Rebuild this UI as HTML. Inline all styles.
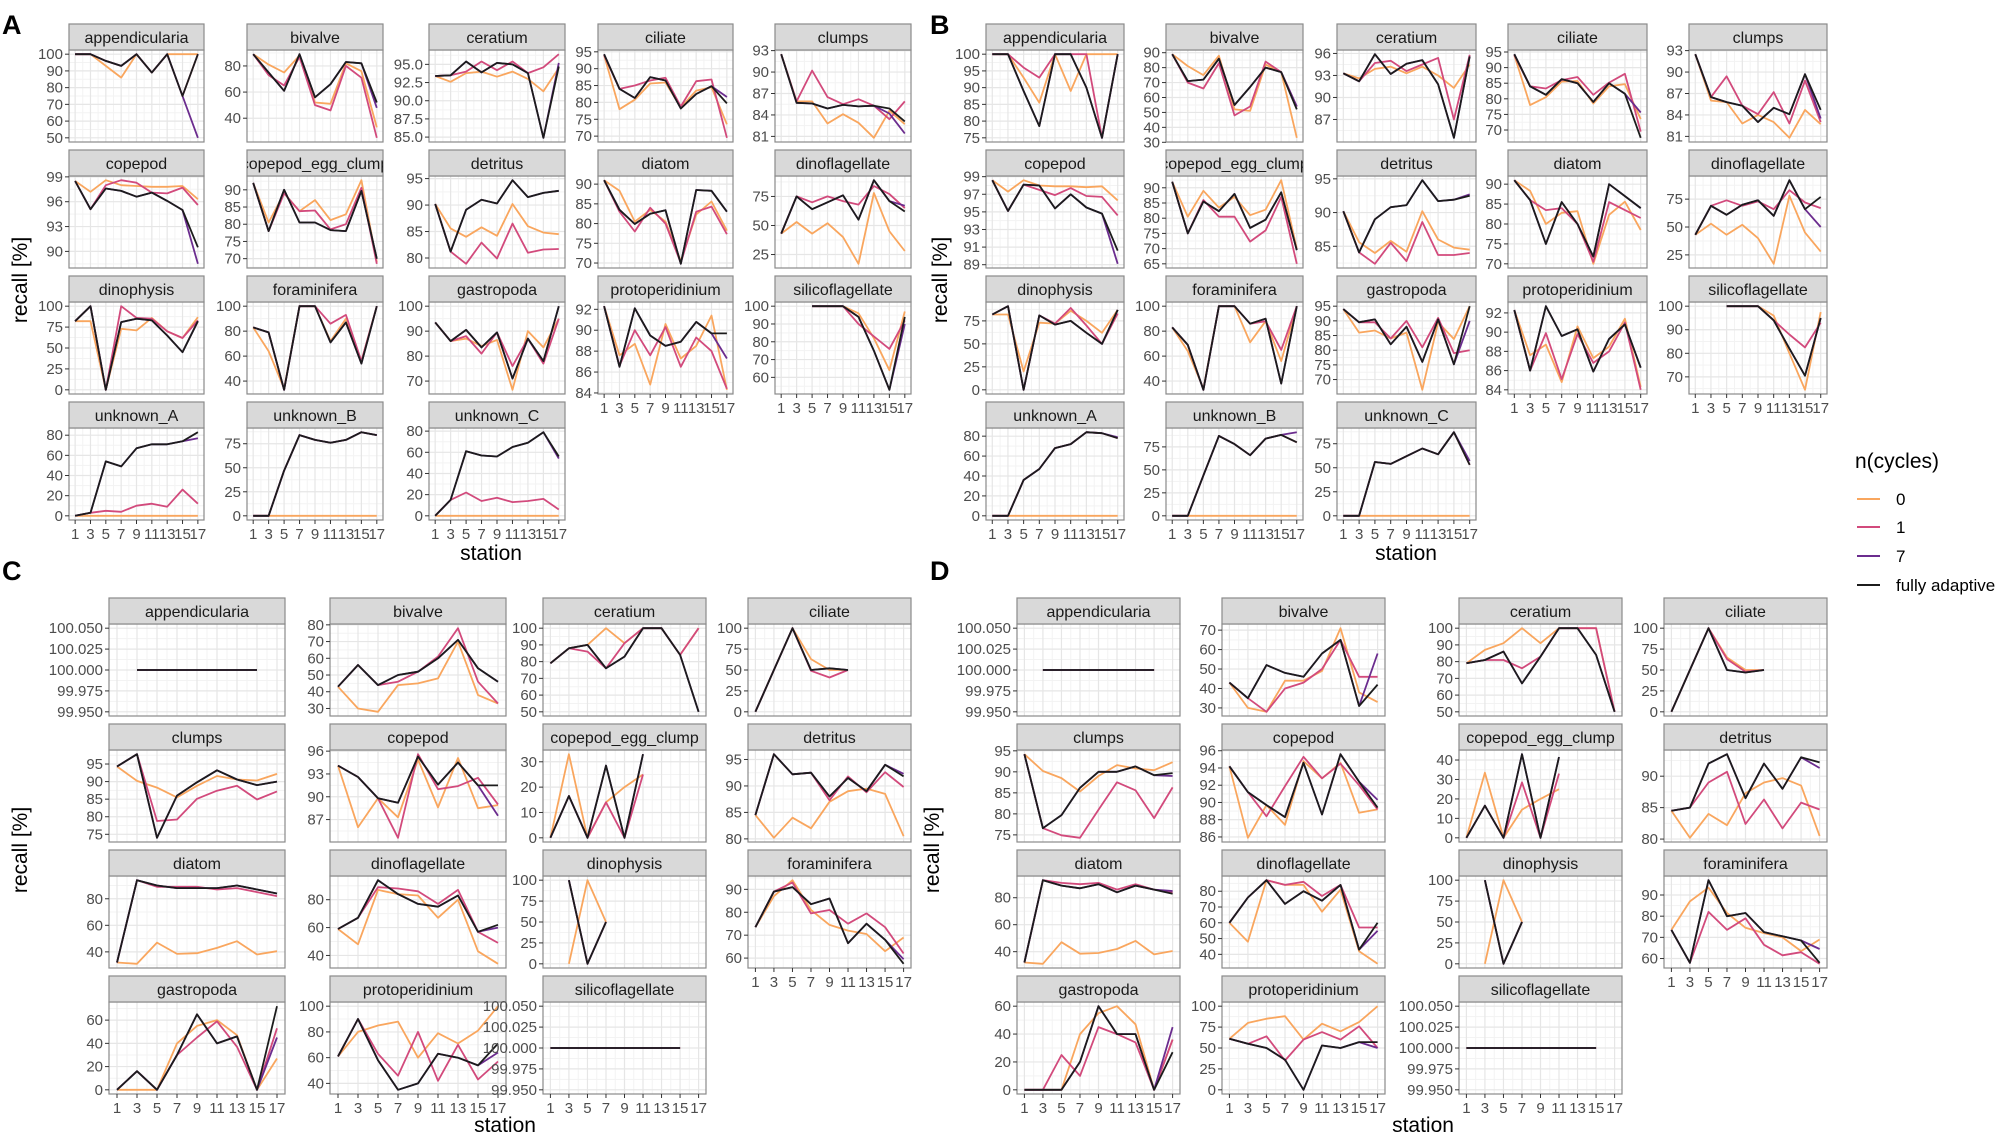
<!DOCTYPE html>
<html><head><meta charset="utf-8">
<style>
html,body{margin:0;padding:0;background:#fff;}
svg{display:block;font-family:"Liberation Sans",Arial,sans-serif;}
</style></head>
<body>
<svg id="fig" width="2014" height="1134" viewBox="0 0 2014 1134" xmlns="http://www.w3.org/2000/svg">
<rect x="0" y="0" width="2014" height="1134" fill="#fff"/>
<text x="2" y="34" font-size="27" font-weight="bold" fill="#000">A</text>
<text x="930" y="34" font-size="27" font-weight="bold" fill="#000">B</text>
<text x="2" y="580" font-size="27" font-weight="bold" fill="#000">C</text>
<text x="930" y="580" font-size="27" font-weight="bold" fill="#000">D</text>
<text transform="translate(27,280) rotate(-90)" text-anchor="middle" font-size="21" fill="#000">recall [%]</text>
<text transform="translate(947,280) rotate(-90)" text-anchor="middle" font-size="21" fill="#000">recall [%]</text>
<text transform="translate(27,850) rotate(-90)" text-anchor="middle" font-size="21" fill="#000">recall [%]</text>
<text transform="translate(939,850) rotate(-90)" text-anchor="middle" font-size="21" fill="#000">recall [%]</text>
<text x="491" y="560" text-anchor="middle" font-size="21" fill="#000">station</text>
<text x="1406" y="560" text-anchor="middle" font-size="21" fill="#000">station</text>
<text x="505" y="1132" text-anchor="middle" font-size="21" fill="#000">station</text>
<text x="1423" y="1132" text-anchor="middle" font-size="21" fill="#000">station</text>
<g>
<text x="1855" y="468" font-size="21" fill="#000">n(cycles)</text>
<line x1="1857" y1="499" x2="1880" y2="499" stroke="#F9A65E" stroke-width="2"/>
<text x="1896" y="505" font-size="17" fill="#000">0</text>
<line x1="1857" y1="527" x2="1880" y2="527" stroke="#D24A7C" stroke-width="2"/>
<text x="1896" y="533" font-size="17" fill="#000">1</text>
<line x1="1857" y1="556" x2="1880" y2="556" stroke="#6B2C8E" stroke-width="2"/>
<text x="1896" y="562" font-size="17" fill="#000">7</text>
<line x1="1857" y1="585" x2="1880" y2="585" stroke="#1c1c1c" stroke-width="2"/>
<text x="1896" y="591" font-size="17" fill="#000">fully adaptive</text>
</g>
</svg>
<script>
const stations=[1,3,5,7,9,11,13,15,17];
const N=null;
// each facet: [s0, s1, s7, fully adaptive]
// ---------- Panel A ----------
const A_appendicularia=[[100,100,93,86,100,89,100,100,100],[100,100,96,93,100,89,100,75,100],[100,100,96,93,100,89,100,75,50],[100,100,96,93,100,89,100,75,100]];
const A_bivalve=[[89,81,75,88,52,51,82,76,33],[89,73,65,87,50,46,80,71,25],[89,75,61,89,56,66,83,82,48],[89,75,61,89,56,66,83,82,52]];
const A_ceratium=[[93.4,92.6,93.8,94.0,93.3,94.0,93.0,91.3,94.5],[93.4,93.5,94.0,95.4,94.2,95.4,93.8,94.6,96.4],[93.4,93.5,95.4,93.9,95.2,95.0,93.8,84.9,95.2],[93.4,93.5,95.4,93.9,95.2,95.0,93.8,84.9,94.7]];
const A_ciliate=[[94,78,80.8,85.6,85.9,78.5,83.5,84.5,73.5],[94,84,85,86.5,87.3,78.8,86.3,86.8,69.5],[94.3,84,81.3,87.5,86.5,78.2,82.5,84.8,81.6],[94.3,84,81.3,87.5,86.5,78.2,82.5,84.8,79.7]];
const A_clumps=[[92.5,85.9,85.9,82.8,84.1,82.9,80.8,84.6,82.7],[92.5,85.9,90.2,86.5,85.5,86.2,85.3,83.4,85.9],[92.5,85.7,85.6,84.9,85.4,85.2,85.3,84.2,81.4],[92.5,85.7,85.6,84.9,85.4,85.2,85.3,84.9,83.1]];
const A_copepod=[[98.5,97.2,98.6,98.0,97.9,97.8,97.8,97.9,96.3],[98.5,95.1,98.0,98.6,98.3,97.1,97.0,97.7,95.6],[98.5,95.1,97.6,97.3,96.6,97.1,96.1,95.0,88.5],[98.5,95.1,97.6,97.3,96.6,97.1,96.1,95.0,90.5]];
const A_copepod_egg_clump=[[92,80.5,89,83.8,87,81.2,82.9,92.8,69],[92,78,89,83.8,84,78.5,80,90.6,68.5],[92,78,90,80.5,80.5,78.3,78,89.7,70],[92,78,90,80.5,80.5,78.3,78,89.7,70]];
const A_detritus=[[90.2,85.6,84,85.8,84.2,90.2,86,84.8,84.5],[90.2,81.2,78.9,82.9,79.9,86.5,81,81.6,81.7],[90.2,81.2,89.1,91.0,90.3,94.7,91.5,92.3,92.7],[90.2,81.2,89.1,91.0,90.3,94.7,91.5,92.3,92.7]];
const A_diatom=[[91,88.3,80.5,83.5,80.5,70.5,82.3,85.6,78.2],[91,83,78,84,80,70,83,84.3,77.3],[91,83.5,79.9,82.5,83.4,69.8,88.5,88.3,83],[91,83.5,79.9,82.5,83.4,69.8,88.5,88.3,83]];
const A_dinoflagellate=[[43,53,43,52,40,17,78,45,28],[43,75,70,75,71,68,84,77,65],[43,75,64,70,76,55,89,71,67],[43,75,64,70,76,55,89,71,62]];
const A_dinophysis=[[82,82,0,73,71,86,70,62,87],[82,100,0,100,86,85,70,62,83],[82,100,0,81,85,83,65,45,82],[82,100,0,81,85,83,65,45,82]];
const A_foraminifera=[[83,64,34,100,100,72,90,56,100],[83,79,33,100,100,86,93,56,100],[83,79,33,100,100,71,87,54,100],[83,79,33,100,100,71,87,54,100]];
const A_gastropoda=[[93.5,86,87,84,86.5,66.5,90,83.5,95],[93.5,86,88,81,89.5,76,87,77,95],[93.5,86,90.5,83.5,89.5,71,87,78,100],[93.5,86,90.5,83.5,89.5,71,87,78,100]];
const A_protoperidinium=[[92.3,87.6,88.7,84.8,90.6,87.3,88.5,91.4,84.3],[92.3,86.6,90.0,87.6,90.3,86.5,89.3,88.0,84.4],[92.3,86.5,92.1,89.5,88.5,88.9,90.8,89.7,87.3],[92.3,86.5,92.1,89.5,88.5,88.9,90.8,89.7,89.7]];
const A_silicoflagellate=[[N,N,100,100,100,96,82,64,97],[N,N,100,100,100,90,83,76,92],[N,N,100,100,100,94,75,53,90],[N,N,100,100,100,94,75,53,94]];
const A_unknown_A=[[0,0,0,0,0,0,0,0,0],[0,3,5,4,10,12,9,26,12],[0,3,54,49,67,71,71,74,77],[0,3,54,49,67,71,71,74,83]];
const A_unknown_B=[[0,0,0,0,0,0,0,0,0],[0,0,47,84,79,76,79,87,84],[0,0,47,84,79,76,79,87,84],[0,0,47,84,79,76,79,87,84]];
const A_unknown_C=[[0,0,0,0,0,0,0,0,0],[0,15,22,14,17,13,14,16,6],[0,15,61,57,56,65,69,79,54],[0,15,61,57,56,65,69,79,56]];
// ---------- Panel B ----------
const B_appendicularia=[[100,100,93,85.5,100,89,100,100,100],[100,100,96,93,100,100,100,75,100],[100,100,89,78.5,100,100,90,75,100],[100,100,89,78.5,100,100,90,75,100]];
const B_bivalve=[[89,81,75,88,52,51,82,77,33],[89,70,66,83,48,54,84,77,54],[89,71,72,86,55,67,80,77,54],[89,71,72,86,55,67,80,77,52]];
const B_ceratium=[[93.3,92.6,93.9,94.2,93.3,94.2,93.0,91.3,94.5],[93.3,92.2,94.7,95.0,93.6,94.5,95.4,87.0,95.8],[93.3,92.2,95.9,93.2,94.6,95.1,91.8,84.5,95.6],[93.3,92.2,95.9,93.2,94.6,95.1,91.8,84.5,95.6]];
const B_ciliate=[[94,78,80.5,85.5,85.7,78.5,84,84.7,73.5],[94,84,83.3,86,87,81.3,85.2,88,69.5],[94.3,84,81.3,86.3,85,79,85,81.6,75.6],[94.3,84,81.3,86.3,85,79,85,81.6,67.5]];
const B_clumps=[[92.5,86,85.8,82.8,84,83,80.8,84.7,82.7],[92.5,86.5,89.4,85.3,84.1,87.2,82.8,88.8,83],[92.5,86.5,85.8,85.3,83,85,84.1,89.7,83.5],[92.5,86.5,85.8,85.3,83,85,84.1,89.7,84.7]];
const B_copepod=[[98.6,97.3,98.6,98.0,97.9,97.9,97.8,97.9,96.3],[98.6,95.1,98.1,97.5,96.9,97.7,96.8,96.7,94.6],[98.6,95.1,98.1,98.0,95.4,97.0,95.5,94.8,89.1],[98.6,95.1,98.1,98.0,95.4,97.0,95.5,94.8,90.6]];
const B_copepod_egg_clump=[[92,80.5,89,83.5,87,81,82.8,92.5,70],[92,75,86,80.5,80.5,72.3,76,87,65],[92,75,85.5,82.3,88,76.8,79.5,88.5,69.5],[92,75,85.5,82.3,88,76.8,79.5,88.5,69.5]];
const B_detritus=[[90.2,85.6,84,85.8,84.2,90.2,86,84.8,84.5],[90.2,84.1,82.4,85.5,82.8,88.6,83.7,83.7,84],[90.2,84.1,89,90.8,91.1,94.8,91.7,91.9,92.7],[90.2,84.1,89,90.8,91.1,94.8,91.7,91.9,92.5]];
const B_diatom=[[91,88.3,80,82.8,83.2,70,82.3,85.6,78.5],[91,86,83.5,84,80,70.5,85.5,83.5,81.5],[91,86,75,85.5,80,71.8,90,87,84],[91,86,75,85.5,80,71.8,90,87,84]];
const B_dinoflagellate=[[43,53,43,52,40,17,78,45,28],[43,69,74,69,73,66,83,72,67],[43,69,61,70,74,60,92,66,50],[43,69,61,70,74,60,92,66,77]];
const B_dinophysis=[[82,82,20,73,72,86,75,62,87],[82,91,0,81,72,89,70,50,83],[82,91,0,81,71,75,62,50,87],[82,91,0,81,71,75,62,50,87]];
const B_foraminifera=[[83,64,34,100,100,71,88,56,100],[83,69,33,100,100,86,88,65,100],[83,69,33,100,100,86,90,38,100],[83,69,33,100,100,86,90,38,100]];
const B_gastropoda=[[94,86,86.7,84,86,66.5,89.5,83.8,95],[94,89.5,89.5,84,90,81,91,79,80],[94,89.5,90.5,82,88,76,90.5,75.2,90],[94,89.5,90.5,82,88,76,90.5,75.2,95]];
const B_protoperidinium=[[92.3,87.6,88.7,84.8,90.6,87.3,88.5,91.4,84.3],[92.3,86,89.9,85.1,89.8,86.8,88.0,91.0,84],[92.3,86,92.7,89.6,90.3,85.9,89.3,90.8,86.3],[92.3,86,92.7,89.6,90.3,85.9,89.3,90.8,86.3]];
const B_silicoflagellate=[[N,N,100,100,100,96,80,64.5,97.5],[N,N,100,100,100,94,88,82.5,93],[N,N,100,100,100,94,82,70.5,95],[N,N,100,100,100,94,82,70.5,95]];
const B_unknown_A=[[0,0,0,0,0,0,0,0,0],[0,0,36,47,68,72,84,83,78],[0,0,36,47,68,72,84,83,79],[0,0,36,47,68,72,84,83,78]];
const B_unknown_B=[[0,0,0,0,0,0,0,0,0],[0,0,44,87,78,66,84,88,80],[0,0,44,87,78,66,84,88,91],[0,0,44,87,78,66,84,88,80]];
const B_unknown_C=[[0,0,0,0,0,0,0,0,0],[0,0,56,54,62,70,64,87,53],[0,0,56,54,62,70,64,87,57],[0,0,56,54,62,70,64,87,53]];
// ---------- Panel C ----------
const C_appendicularia=[[N,100,100,100,100,100,100,100,N],[N,100,100,100,100,100,100,100,N],[N,100,100,100,100,100,100,100,N],[N,100,100,100,100,100,100,100,N]];
const C_bivalve=[[43,30,28,44,45,48,70,38,33],[43,56,44,46,52,61,78,46,33],[43,56,44,50,52,60,71,54,46],[43,56,44,50,52,60,71,54,46]];
const C_ceratium=[[79,88,90,100,91,100,100,84,100],[79,88,86,76,91,100,100,84,100],[79,88,90,76,83,100,100,84,50],[79,88,90,76,83,100,100,84,50]];
const C_ciliate=[[0,50,100,63,50,50,N,N,N],[0,50,100,49,41,50,N,N,N],[0,50,100,50,52,50,N,N,N],[0,50,100,50,52,50,N,N,N]];
const C_clumps=[[94.3,90.2,88.3,85.5,88.8,91.6,90.6,90.3,92.2],[94.3,97.8,78.8,79.2,85.1,87.4,88.8,84.9,87.2],[94.3,97.8,74,86,89.8,93.2,90.6,89,90],[94.3,97.8,74,86,89.8,93.2,90.6,89,90]];
const C_copepod=[[94.1,86.0,89.8,87.3,94.9,88.6,95.1,88.5,88.9],[94.1,92.6,89.8,84.6,95.6,91.0,91.4,92.5,89.0],[94.1,92.6,89.8,89.2,95.3,91.6,94.5,91.5,87.5],[94.1,92.6,89.8,89.2,95.3,91.6,94.5,91.5,91.5]];
const C_copepod_egg_clump=[[0,33,0,14,20,25,N,N,N],[0,16.5,0,14,0,25,N,N,N],[0,16.5,0,28.5,0,33,N,N,N],[0,16.5,0,28.5,0,33,N,N,N]];
const C_detritus=[[84.5,80.2,84,82,87,89,89.5,88.5,80.5],[84.5,96,92.2,92.5,87.3,91.8,88.8,92.6,89.8],[84.5,96,92.2,92.5,88,91.5,89,94,92.3],[84.5,96,92.2,92.5,88,91.5,89,94,91.8]];
const C_diatom=[[32,31,47,38.5,39,43,48,38,40.5],[32,94,89,89,89,87,88,85,82],[32,94,90,88,88,88,90,87,84],[32,94,90,88,88,88,90,87,84]];
const C_dinoflagellate=[[59,48,87,84,83,67,80,43,34],[59,67,89,88,86,77,87,57,49],[59,67,94,84,77,75,83,57,60],[59,67,94,84,77,75,83,57,62]];
const C_dinophysis=[[N,0,100,50,N,N,N,N,N],[N,100,0,50,N,N,N,N,N],[N,100,0,50,N,N,N,N,N],[N,100,0,50,N,N,N,N,N]];
const C_foraminifera=[[73.5,87,94,81,74.5,72,70.5,63,69],[73.5,89,93,79.5,81,75,79.5,73.5,62],[73.5,89,91,83.5,86,66.5,75,68,59.5],[73.5,89,91,83.5,86,66.5,75,68,57.5]];
const C_gastropoda=[[0,0,0,40,55,60,47,0,27],[0,16,0,30,45,59,37,0,53],[0,16,0,30,65,40,46,0,45],[0,16,0,30,65,40,46,0,72]];
const C_protoperidinium=[[61,80,85,88,60,79,71,81,100],[61,90,63,46,80,42,70,43,57],[61,90,58,35,40,63,60,54,64],[61,90,58,35,40,63,60,54,71]];
const C_silicoflagellate=[[100,100,100,100,100,100,100,100,N],[100,100,100,100,100,100,100,100,N],[100,100,100,100,100,100,100,100,N],[100,100,100,100,100,100,100,100,N]];
// ---------- Panel D ----------
const D_appendicularia=C_appendicularia;
const D_bivalve=[[43,30,28,44,44,49,71,38,33],[43,35,28,40,43,50,65,46,46],[43,35,52,48,46,58,65,31,58],[43,35,52,48,46,58,65,31,42]];
const D_ceratium=[[79,87,91,100,91,100,100,100,50],[79,81,81,76,83,100,100,100,50],[79,81,86,67,83,100,100,84,50],[79,81,86,67,83,100,100,84,50]];
const D_ciliate=[[0,50,100,65,50,50,N,N,N],[0,50,100,63,48,50,N,N,N],[0,50,100,50,47,50,N,N,N],[0,50,100,50,47,50,N,N,N]];
const D_clumps=[[94.2,90.2,88.5,85.3,89,91.6,90.8,90.4,92.3],[94.2,76.6,74.9,74.3,81,87.5,85.6,79,86.3],[94.2,76.6,79.7,86.2,90,90,91.3,89.2,89],[94.2,76.6,79.7,86.2,90,90,91.3,89.2,89.7]];
const D_copepod=[[94.2,85.9,89.7,87.4,94.8,92.8,94.6,88.8,89.2],[94.2,91.2,88.4,91.9,95.3,92.8,94.5,92,89.2],[94.2,91.2,89.7,88.3,94.6,88.6,95.6,92.4,90.3],[94.2,91.2,89.7,88.3,94.6,88.6,95.6,92.4,89.4]];
const D_copepod_egg_clump=[[0,33.5,0,14.5,20,25,N,N,N],[0,16.5,0,28.5,0,33,N,N,N],[0,16.5,0,43,0,41.5,N,N,N],[0,16.5,0,43,0,41.5,N,N,N]];
const D_detritus=[[84.5,80.2,84,82.2,87.3,89,89.7,88.5,80.5],[84.5,85,89,90.7,82.4,86.3,81.7,85.8,84.7],[84.5,85,92,93.5,86.5,92,88,93,91.3],[84.5,85,92,93.5,86.5,92,88,93,92.2]];
const D_diatom=[[32,31,47,38.5,39,42,48,38,40.5],[32,93,91,90,91,86,90,86,84],[32,93,89,87,90,84,89,86,85],[32,93,89,87,90,84,89,86,83]];
const D_dinoflagellate=[[60,48,87,84,84,67,81,42,34],[60,76,87,84,86,77,84,57,57],[60,76,87,72,80,74,84,43,55],[60,76,87,72,80,74,84,43,60]];
const D_dinophysis=C_dinophysis;
const D_foraminifera=[[73.5,87,93.5,81.5,74.5,72,70,63.5,69],[73.5,58,82,73.5,79,66.5,61.5,63,57.5],[73.5,58,97,80,81.5,72.5,70.5,68.5,64.5],[73.5,58,97,80,81.5,72.5,70.5,68.5,58]];
const D_gastropoda=[[0,0,0,40,55,60,47,0,36],[0,0,25,10,45,40,34,0,36],[0,0,0,20,60,40,40,0,45],[0,0,0,20,60,40,40,0,27]];
const D_protoperidinium=[[61,80,85,88,60,79,70,81,100],[61,55,64,35,60,69,60,76,50],[61,55,50,36,0,53,50,57,50],[61,55,50,36,0,53,50,57,57]];
const D_silicoflagellate=C_silicoflagellate;

// tick labels per facet
const TK={
A_appendicularia:["50","60","70","80","90","100"],A_bivalve:["40","60","80"],A_ceratium:["85.0","87.5","90.0","92.5","95.0"],A_ciliate:["70","75","80","85","90","95"],A_clumps:["81","84","87","90","93"],
A_copepod:["90","93","96","99"],A_copepod_egg_clump:["70","75","80","85","90"],A_detritus:["80","85","90","95"],A_diatom:["70","75","80","85","90"],A_dinoflagellate:["25","50","75"],
A_dinophysis:["0","25","50","75","100"],A_foraminifera:["40","60","80","100"],A_gastropoda:["70","80","90","100"],A_protoperidinium:["84","86","88","90","92"],A_silicoflagellate:["60","70","80","90","100"],
A_unknown_A:["0","20","40","60","80"],A_unknown_B:["0","25","50","75"],A_unknown_C:["0","20","40","60","80"],
B_appendicularia:["75","80","85","90","95","100"],B_bivalve:["30","40","50","60","70","80","90"],B_ceratium:["87","90","93","96"],B_ciliate:["70","75","80","85","90","95"],B_clumps:["81","84","87","90","93"],
B_copepod:["89","91","93","95","97","99"],B_copepod_egg_clump:["65","70","75","80","85","90"],B_detritus:["85","90","95"],B_diatom:["70","75","80","85","90"],B_dinoflagellate:["25","50","75"],
B_dinophysis:["0","25","50","75"],B_foraminifera:["40","60","80","100"],B_gastropoda:["70","75","80","85","90","95"],B_protoperidinium:["84","86","88","90","92"],B_silicoflagellate:["70","80","90","100"],
B_unknown_A:["0","20","40","60","80"],B_unknown_B:["0","25","50","75"],B_unknown_C:["0","25","50","75"],
C_appendicularia:["99.950","99.975","100.000","100.025","100.050"],C_bivalve:["30","40","50","60","70","80"],C_ceratium:["50","60","70","80","90","100"],C_ciliate:["0","25","50","75","100"],
C_clumps:["75","80","85","90","95"],C_copepod:["87","90","93","96"],C_copepod_egg_clump:["0","10","20","30"],C_detritus:["80","85","90","95"],
C_diatom:["40","60","80"],C_dinoflagellate:["40","60","80"],C_dinophysis:["0","25","50","75","100"],C_foraminifera:["60","70","80","90"],
C_gastropoda:["0","20","40","60"],C_protoperidinium:["40","60","80","100"],C_silicoflagellate:["99.950","99.975","100.000","100.025","100.050"],
D_appendicularia:["99.950","99.975","100.000","100.025","100.050"],D_bivalve:["30","40","50","60","70"],D_ceratium:["50","60","70","80","90","100"],D_ciliate:["0","25","50","75","100"],
D_clumps:["75","80","85","90","95"],D_copepod:["86","88","90","92","94","96"],D_copepod_egg_clump:["0","10","20","30","40"],D_detritus:["80","85","90"],
D_diatom:["40","60","80"],D_dinoflagellate:["40","50","60","70","80"],D_dinophysis:["0","25","50","75","100"],D_foraminifera:["60","70","80","90"],
D_gastropoda:["0","20","40","60"],D_protoperidinium:["0","25","50","75","100"],D_silicoflagellate:["99.950","99.975","100.000","100.025","100.050"]
};
const namesAB=["appendicularia","bivalve","ceratium","ciliate","clumps","copepod","copepod_egg_clump","detritus","diatom","dinoflagellate","dinophysis","foraminifera","gastropoda","protoperidinium","silicoflagellate","unknown_A","unknown_B","unknown_C"];
const namesCD=namesAB.slice(0,15);
const DATA={
A_appendicularia,A_bivalve,A_ceratium,A_ciliate,A_clumps,A_copepod,A_copepod_egg_clump,A_detritus,A_diatom,A_dinoflagellate,A_dinophysis,A_foraminifera,A_gastropoda,A_protoperidinium,A_silicoflagellate,A_unknown_A,A_unknown_B,A_unknown_C,
B_appendicularia,B_bivalve,B_ceratium,B_ciliate,B_clumps,B_copepod,B_copepod_egg_clump,B_detritus,B_diatom,B_dinoflagellate,B_dinophysis,B_foraminifera,B_gastropoda,B_protoperidinium,B_silicoflagellate,B_unknown_A,B_unknown_B,B_unknown_C,
C_appendicularia,C_bivalve,C_ceratium,C_ciliate,C_clumps,C_copepod,C_copepod_egg_clump,C_detritus,C_diatom,C_dinoflagellate,C_dinophysis,C_foraminifera,C_gastropoda,C_protoperidinium,C_silicoflagellate,
D_appendicularia,D_bivalve,D_ceratium,D_ciliate,D_clumps,D_copepod,D_copepod_egg_clump,D_detritus,D_diatom,D_dinoflagellate,D_dinophysis,D_foraminifera,D_gastropoda,D_protoperidinium,D_silicoflagellate};

const PANELS=[
 {id:"A",names:namesAB,ncol:5,cols:[[69,204],[247,383],[429,565],[598,733],[775,911]],rows:[24,150,276,402]},
 {id:"B",names:namesAB,ncol:5,cols:[[986,1124],[1166,1303],[1337,1476],[1508,1647],[1689,1827]],rows:[24,150,276,402]},
 {id:"C",names:namesCD,ncol:4,cols:[[109,285],[330,506],[543,706],[748,911]],rows:[598,724,850,976]},
 {id:"D",names:namesCD,ncol:4,cols:[[1017,1180],[1222,1385],[1459,1622],[1664,1827]],rows:[598,724,850,976]}
];
const COLORS=["#F9A65E","#D24A7C","#6B2C8E","#1c1c1c"];
const SER=["0","1","7","fully-adaptive"];
const NS="http://www.w3.org/2000/svg";
const svg=document.getElementById("fig");
function mk(tag,attrs,parent){const e=document.createElementNS(NS,tag);for(const k in attrs)e.setAttribute(k,attrs[k]);parent.appendChild(e);return e;}
const STRIP=26,PH=92;
let clipId=0;
PANELS.forEach(P=>{
 const pg=mk("g",{},svg);
 
 
 const nf=P.names.length;
 P.names.forEach((nm,i)=>{
  const key=P.id+"_"+nm;
  const series=DATA[key];
  const ticks=TK[key];
  const col=i%P.ncol,row=Math.floor(i/P.ncol);
  const x0=P.cols[col][0],x1=P.cols[col][1];
  const st=P.rows[row],y0=st+STRIP,y1=y0+PH;
  let vals=[];series.forEach(s=>s.forEach(v=>{if(v!==null)vals.push(v);}));
  let lo=Math.min(...vals),hi=Math.max(...vals);
  if(hi-lo<1e-9){lo-=0.05;hi+=0.05;}
  const pad=(hi-lo)*0.05;lo-=pad;hi+=pad;
  const ys=v=>y1-(v-lo)/(hi-lo)*(y1-y0);
  const xs=s=>x0+(s-0.2)/17.6*(x1-x0);
  const g=mk("g",{},pg);
  
  
  const bg=mk("rect",{x:x0,y:y0,width:x1-x0,height:y1-y0,fill:"#fff"},g);
  
  
  const tv=ticks.map(Number);
  const step=tv.length>1?tv[1]-tv[0]:1;
  // minor y grid
  for(let k=-1;k<tv.length;k++){
   const m=tv[0]+(k+0.5)*step;
   if(m>lo&&m<hi){const l=mk("line",{x1:x0,x2:x1,y1:ys(m),y2:ys(m),stroke:"#F3F3F3","stroke-width":1},g);
    
    }
  }
  for(let s=0;s<=18;s+=2){if(s>0.2&&s<17.8){const l=mk("line",{x1:xs(s),x2:xs(s),y1:y0,y2:y1,stroke:"#F3F3F3","stroke-width":1},g);
    
    }}
  tv.forEach(t=>{const l=mk("line",{x1:x0,x2:x1,y1:ys(t),y2:ys(t),stroke:"#E6E6E6","stroke-width":1.2},g);
    
    });
  stations.forEach(s=>{const l=mk("line",{x1:xs(s),x2:xs(s),y1:y0,y2:y1,stroke:"#E6E6E6","stroke-width":1.2},g);
    
    });
  // series lines
  series.forEach((arr,si)=>{
   let d="",pen=false;
   arr.forEach((v,j)=>{if(v===null){pen=false;return;}d+=(pen?"L":"M")+xs(stations[j]).toFixed(1)+","+ys(v).toFixed(1);pen=true;});
   const p=mk("path",{d:d,fill:"none",stroke:COLORS[si],"stroke-width":1.8,"stroke-linejoin":"round"},g);
   
   
  });
  const bd=mk("rect",{x:x0,y:y0,width:x1-x0,height:y1-y0,fill:"none",stroke:"#8a8a8a","stroke-width":1.2},g);
  
  
  // strip
  const sr=mk("rect",{x:x0,y:st,width:x1-x0,height:STRIP,fill:"#D9D9D9",stroke:"#8a8a8a","stroke-width":1.2},g);
  
  
  clipId++;
  const cp=mk("clipPath",{id:"cp"+clipId},g);
  mk("rect",{x:x0,y:st,width:x1-x0,height:STRIP},cp);
  const stx=mk("text",{x:(x0+x1)/2,y:st+19,"text-anchor":"middle","font-size":16,fill:"#1A1A1A","clip-path":"url(#cp"+clipId+")"},g);
  stx.textContent=nm;
  
  
  // y ticks
  ticks.forEach((t,k)=>{const yy=ys(tv[k]);
   const tm=mk("line",{x1:x0-4,x2:x0,y1:yy,y2:yy,stroke:"#333","stroke-width":1},g);
   
   
   const tl=mk("text",{x:x0-6,y:yy+5,"text-anchor":"end","font-size":15,fill:"#4D4D4D"},g);
   tl.textContent=t;
   
   
  });
  // x axis on bottom facets
  if(i+P.ncol>=nf){
   stations.forEach(s=>{
    const tm=mk("line",{x1:xs(s),x2:xs(s),y1:y1,y2:y1+4,stroke:"#333","stroke-width":1},g);
    
    
    const tl=mk("text",{x:xs(s),y:y1+19,"text-anchor":"middle","font-size":15,fill:"#4D4D4D"},g);
    tl.textContent=String(s);
    
    
   });
  }
 });
});
</script>
</body></html>
